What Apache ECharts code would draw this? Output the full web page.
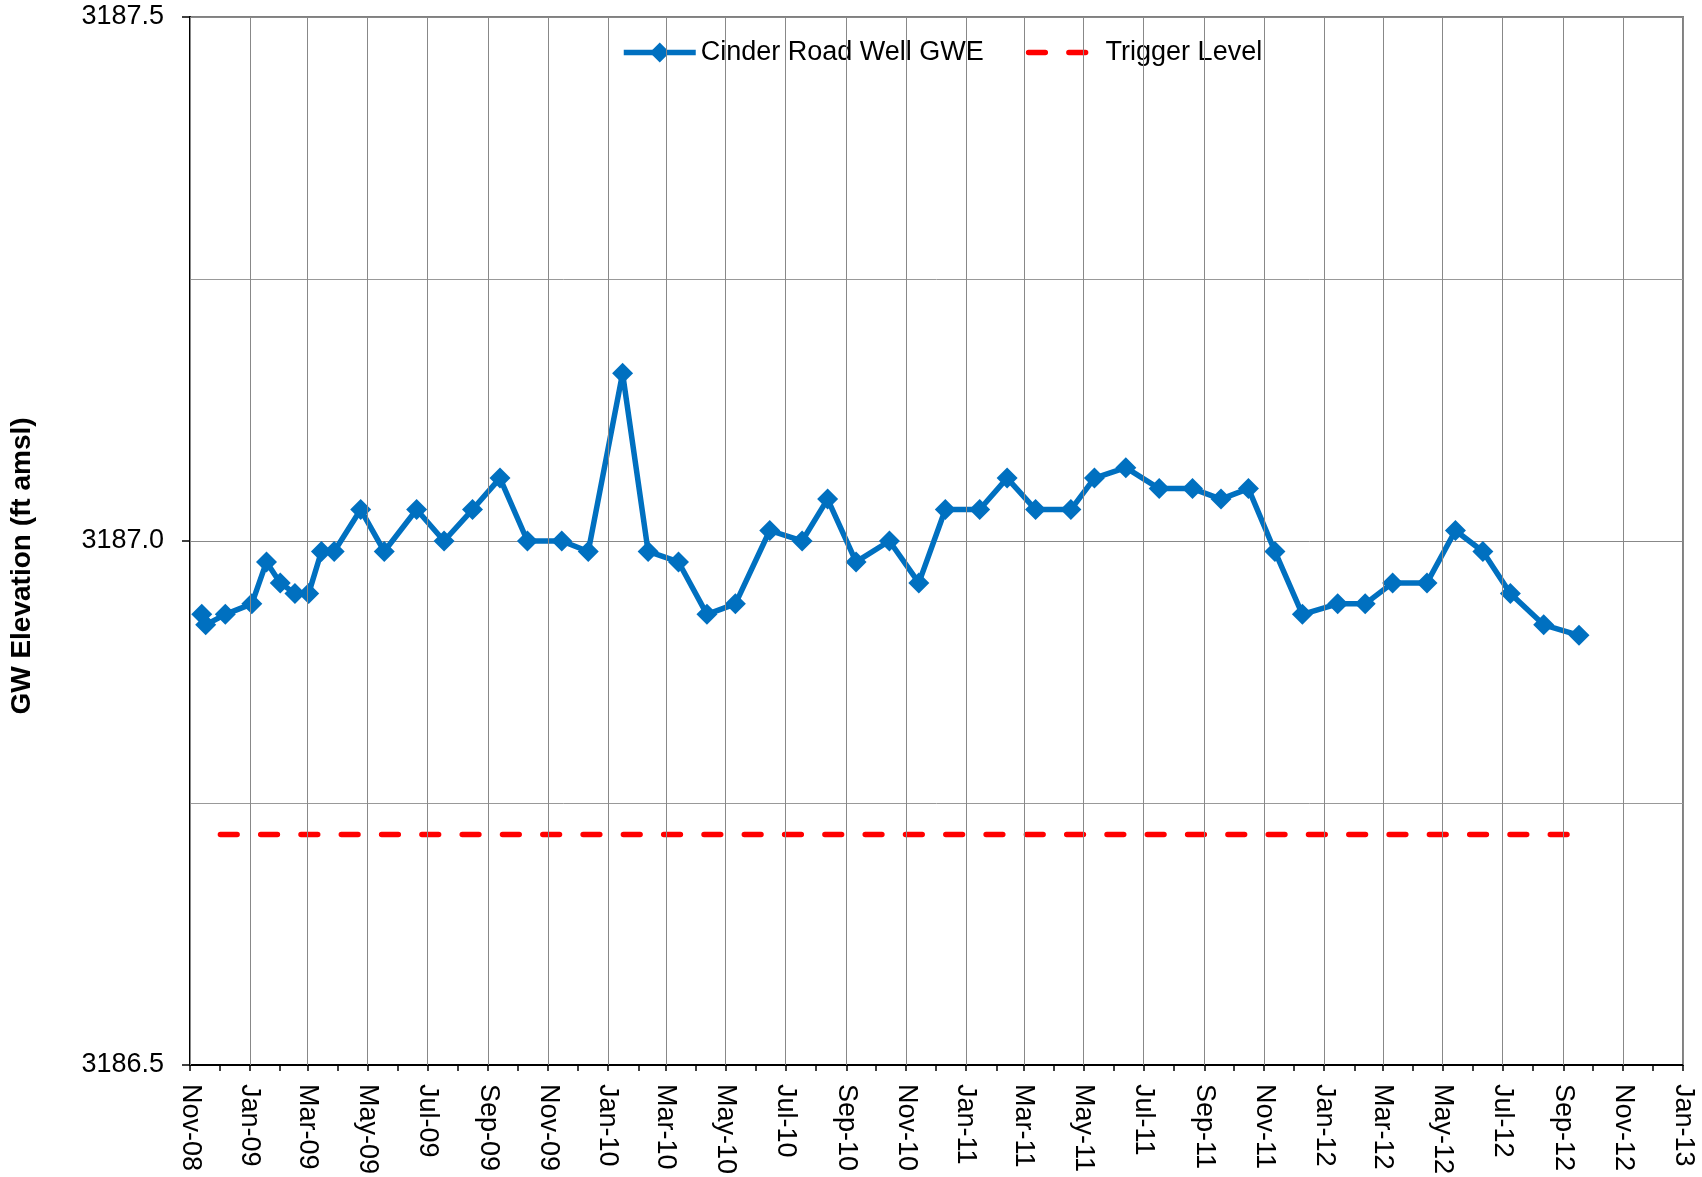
<!DOCTYPE html>
<html><head><meta charset="utf-8">
<script src="https://cdn.jsdelivr.net/npm/echarts@6/dist/echarts.min.js"></script>
<style>html,body{margin:0;padding:0;background:#fff}#c{width:1702px;height:1177px}</style>
</head><body><div id="c"></div>
<script>
// ---- data ----
const sampleDates = [
  '2008-11-13','2008-11-17','2008-12-07','2009-01-03','2009-01-18','2009-02-01','2009-02-16','2009-03-02',
  '2009-03-15','2009-03-28','2009-04-24','2009-05-18','2009-06-20','2009-07-18','2009-08-16','2009-09-13',
  '2009-10-11','2009-11-15','2009-12-12','2010-01-16','2010-02-11','2010-03-14','2010-04-12','2010-05-11',
  '2010-06-15','2010-07-18','2010-08-13','2010-09-11','2010-10-15','2010-11-14','2010-12-11','2011-01-15',
  '2011-02-12','2011-03-13','2011-04-18','2011-05-12','2011-06-13','2011-07-17','2011-08-20','2011-09-18',
  '2011-10-16','2011-11-12','2011-12-10','2012-01-15','2012-02-12','2012-03-11','2012-04-15','2012-05-14',
  '2012-06-11','2012-07-09','2012-08-12','2012-09-17'
];
const gweValues = [
  3186.93,3186.92,3186.93,3186.94,3186.98,3186.96,3186.95,3186.95,
  3186.99,3186.99,3187.03,3186.99,3187.03,3187.00,3187.03,3187.06,
  3187.00,3187.00,3186.99,3187.16,3186.99,3186.98,3186.93,3186.94,
  3187.01,3187.00,3187.04,3186.98,3187.00,3186.96,3187.03,3187.03,
  3187.06,3187.03,3187.03,3187.06,3187.07,3187.05,3187.05,3187.04,
  3187.05,3186.99,3186.93,3186.94,3186.94,3186.96,3186.96,3187.01,
  3186.99,3186.95,3186.92,3186.91
];
const triggerDates = ['2008-12-02','2012-09-07'];
const triggerValues = [3186.72, 3186.72];

const tickDates = ['2008-11-01','2009-01-01','2009-03-01','2009-05-01','2009-07-01','2009-09-01','2009-11-01',
  '2010-01-01','2010-03-01','2010-05-01','2010-07-01','2010-09-01','2010-11-01','2011-01-01','2011-03-01',
  '2011-05-01','2011-07-01','2011-09-01','2011-11-01','2012-01-01','2012-03-01','2012-05-01','2012-07-01',
  '2012-09-01','2012-11-01','2013-01-01'];
const tickLabels = ['Nov-08','Jan-09','Mar-09','May-09','Jul-09','Sep-09','Nov-09','Jan-10','Mar-10','May-10',
  'Jul-10','Sep-10','Nov-10','Jan-11','Mar-11','May-11','Jul-11','Sep-11','Nov-11','Jan-12','Mar-12','May-12',
  'Jul-12','Sep-12','Nov-12','Jan-13'];
const yMin = 3186.5, yMax = 3187.5, yStep = 0.5;

// ---- helpers ----
const ts = s => { const p = s.split('-').map(Number); return Date.UTC(p[0], p[1] - 1, p[2]); };
const tickTs = tickDates.map(ts);
const monthTicks = [];
tickTs.forEach((t, i) => {
  monthTicks.push(t);
  if (i < tickTs.length - 1) {
    const d = new Date(t);
    monthTicks.push(Date.UTC(d.getUTCFullYear(), d.getUTCMonth() + 1, 1));
  }
});
const FONT = '"Liberation Sans", Arial, sans-serif';

const chart = echarts.init(document.getElementById('c'), null, {renderer: 'canvas'});
chart.setOption({
  animation: false,
  backgroundColor: '#fff',
  grid: {left: 190, right: 19, top: 17, bottom: 112, show: true, borderColor: '#808080', borderWidth: 2, backgroundColor: 'transparent'},
  legend: {
    data: [
      {name: 'Cinder Road Well GWE'},
      {name: 'Trigger Level', itemStyle: {opacity: 0}}
    ],
    left: 607, top: 33, padding: [6, 14, 6, 14], backgroundColor: '#fff',
    itemWidth: 72, itemHeight: 25, itemGap: 42,
    lineStyle: {width: 'inherit'},
    textStyle: {fontSize: 27, fontFamily: FONT, color: '#000'}
  },
  xAxis: {
    type: 'value', min: ts(tickDates[0]), max: ts(tickDates[tickDates.length - 1]),
    axisLine: {show: true, onZero: false, lineStyle: {color: '#000', width: 2}},
    axisTick: {show: true, customValues: monthTicks, length: 6, lineStyle: {color: '#000', width: 1.5}},
    axisLabel: {
      customValues: tickTs, rotate: -90, margin: 19, fontSize: 27, fontFamily: FONT, color: '#000',
      formatter: v => { const i = tickTs.indexOf(v); return i >= 0 ? tickLabels[i] : ''; }
    },
    splitLine: {show: false}
  },
  yAxis: {
    type: 'value', min: yMin, max: yMax, interval: yStep,
    axisLine: {show: true, lineStyle: {color: '#000', width: 2}},
    axisTick: {show: true, length: 8, lineStyle: {color: '#000', width: 1.5}},
    axisLabel: {margin: 26, fontSize: 27, fontFamily: FONT, color: '#000', formatter: v => v.toFixed(1)},
    splitLine: {show: true, lineStyle: {color: '#888', width: 1}},
    minorTick: {show: false, splitNumber: 2},
    minorSplitLine: {show: true, lineStyle: {color: '#999', width: 1}}
  },
  graphic: [{
    type: 'text', x: 22, y: 566, rotation: Math.PI / 2, z: 10,
    style: {text: 'GW Elevation (ft amsl)', fontSize: 28, fontWeight: 'bold', fontFamily: FONT, fill: '#000', align: 'center', verticalAlign: 'middle'}
  }],
  series: [
    {
      name: '_grid', type: 'line', data: [], z: 1, silent: true,
      markLine: {
        silent: true, symbol: 'none', label: {show: false}, animation: false,
        lineStyle: {color: '#888', width: 1, type: 'solid'},
        data: tickTs.map(t => ({xAxis: t}))
      }
    },
    {
      name: 'Trigger Level', type: 'line', z: 2,
      data: triggerDates.map((d, i) => [ts(d), triggerValues[i]]),
      symbol: 'none',
      lineStyle: {color: '#FF0000', width: 5.5, type: [16.7, 23.6], cap: 'round'},
      itemStyle: {color: '#FF0000'}
    },
    {
      name: 'Cinder Road Well GWE', type: 'line', z: 3,
      data: sampleDates.map((d, i) => [ts(d), gweValues[i]]),
      symbol: 'diamond', symbolSize: 21, showSymbol: true,
      lineStyle: {color: '#0070C0', width: 5.5},
      itemStyle: {color: '#0070C0'}
    }
  ]
});
</script></body></html>
